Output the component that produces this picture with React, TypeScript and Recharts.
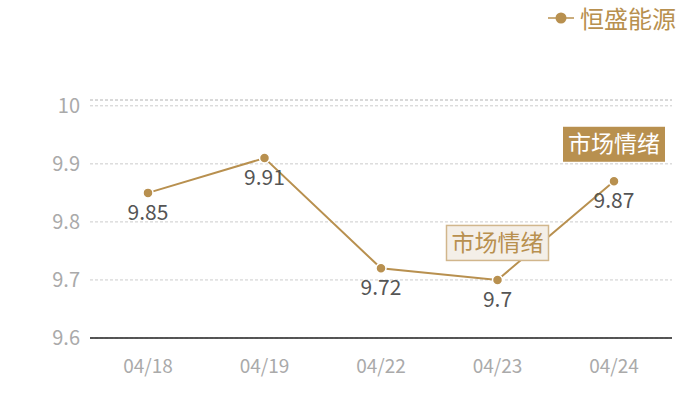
import React from "react";
import { LineChart, Line, XAxis, YAxis, CartesianGrid, LabelList, ReferenceDot, ReferenceLine } from "recharts";

const dates = ["04/18", "04/19", "04/22", "04/23", "04/24"];
const prices = [9.85, 9.91, 9.72, 9.7, 9.87];
const yTicks = [9.6, 9.7, 9.8, 9.9, 10];
const yDomain = [9.6, 10.01];
const seriesName = "恒盛能源";
const annotationDates = ["04/23", "04/24"];
const annotationValues = [9.7, 9.87];
const annotationText = "市场情绪";
const annotationKinds = ["light", "dark"];

const data = dates.map((d, i) => ({ date: d, value: prices[i] }));

const GOLD = "#b8904f";
const FONT = "'Noto Sans CJK SC', 'Noto Sans', sans-serif";

const makeAnnotationShape = (kind: string) => (props: any) => {
  const { cx, cy } = props;
  const w = 102;
  const h = 35;
  const x = cx - w / 2;
  const y = cy - 37 - h / 2;
  const dark = kind === "dark";
  return (
    <g>
      <rect
        x={x}
        y={y}
        width={w}
        height={h}
        fill={dark ? GOLD : "#f4efe8"}
        stroke={dark ? "none" : "#d1b68c"}
        strokeWidth={1.5}
      />
      <text
        x={cx}
        y={y + h / 2 + 8}
        textAnchor="middle"
        fontSize={23}
        fontFamily={FONT}
        fill={dark ? "#ffffff" : GOLD}
      >
        {annotationText}
      </text>
    </g>
  );
};

export default function App() {
  return (
    <div style={{ width: 700, height: 400, position: "relative" }}>
      <style>{"body{margin:0}"}</style>
      <div
        style={{
          position: "absolute",
          top: 3,
          right: 24,
          display: "flex",
          alignItems: "center",
          fontFamily: FONT,
          zIndex: 2,
        }}
      >
        <svg width={26} height={14} style={{ marginRight: 6 }}>
          <line x1={0} y1={7} x2={26} y2={7} stroke={GOLD} strokeWidth={1.5} />
          <circle cx={13} cy={7} r={5.5} fill={GOLD} />
        </svg>
        <span style={{ color: GOLD, fontSize: 24, lineHeight: "30px" }}>{seriesName}</span>
      </div>
      <LineChart width={700} height={400} data={data} margin={{ top: 100, right: 28, bottom: 32, left: 0 }}>
        <CartesianGrid vertical={false} stroke="#cccccc" strokeDasharray="3 2" />
        <ReferenceLine y={yDomain[1]} stroke="#cccccc" strokeDasharray="3 2" />
        <XAxis
          dataKey="date"
          height={30}
          padding={{ left: 58, right: 58 }}
          tickLine={false}
          tickSize={0}
          tickMargin={22}
          axisLine={{ stroke: "#222222", strokeWidth: 1.5 }}
          tick={{ fill: "#aaaaaa", fontSize: 19, fontFamily: FONT }}
        />
        <YAxis
          width={90}
          domain={yDomain}
          ticks={yTicks}
          interval={0}
          allowDataOverflow
          axisLine={false}
          tickLine={false}
          tickSize={0}
          tickMargin={10}
          tick={{ fill: "#aaaaaa", fontSize: 20, fontFamily: FONT }}
        />
        <Line
          type="linear"
          dataKey="value"
          name={seriesName}
          stroke={GOLD}
          strokeWidth={2}
          dot={{ r: 5, fill: GOLD, stroke: "#ffffff", strokeWidth: 1.5 }}
          isAnimationActive={false}
        >
          <LabelList dataKey="value" position="bottom" offset={12} fill="#555555" fontSize={21} fontFamily={FONT} />
        </Line>
        {annotationDates.map((d, i) => (
          <ReferenceDot
            key={d}
            x={d}
            y={annotationValues[i]}
            r={0}
            ifOverflow="visible"
            shape={makeAnnotationShape(annotationKinds[i])}
          />
        ))}
      </LineChart>
    </div>
  );
}
